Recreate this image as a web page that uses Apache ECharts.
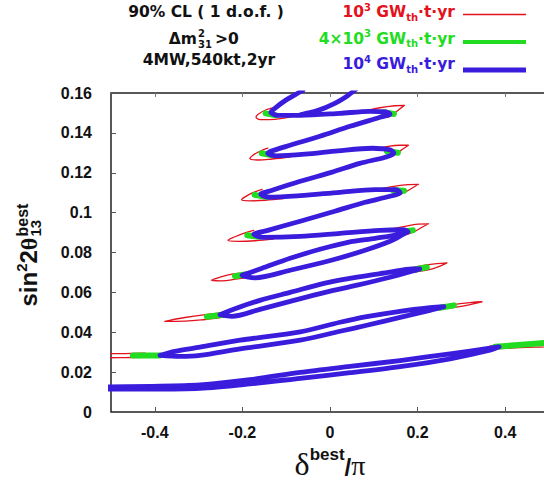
<!DOCTYPE html>
<html>
<head>
<meta charset="utf-8">
<title>sin22theta13 best vs delta best</title>
<script src="https://cdn.jsdelivr.net/npm/echarts@6.0.0/dist/echarts.min.js"></script>
<style>html,body{margin:0;padding:0;background:#fff;}</style>
</head>
<body>
<div id="main" style="width:544px;height:480px;"></div>
<script>
// axes: x = delta_best / pi, y = sin^2 2theta13 best
var xTicks = [-0.4, -0.2, 0, 0.2, 0.4];
var yTicks = [0, 0.02, 0.04, 0.06, 0.08, 0.1, 0.12, 0.14, 0.16];

var legendLabels = ['10{u|3} GW{d|th}·t·yr', '4×10{u|3} GW{d|th}·t·yr', '10{u|4} GW{d|th}·t·yr'];

// 10^4 GW_th t yr contour (blue)
var blueZigzag = [
  [-0.062,0.1614],[-0.068,0.1606],[-0.105,0.1558],[-0.126,0.1523],[-0.135,0.1503],
  [-0.119,0.1488],[-0.068,0.1488],[0.023,0.1498],[0.091,0.1508],[0.128,0.1505],
  [0.137,0.1494],[0.114,0.1478],[0.046,0.1433],[-0.023,0.1383],[-0.091,0.1338],[-0.132,0.1310],
  [-0.142,0.1298],[-0.123,0.1285],[-0.057,0.1293],[0.018,0.1310],[0.096,0.1323],[0.137,0.1315],
  [0.146,0.1298],[0.126,0.1278],[0.068,0.1247],[0.003,0.1202],[-0.068,0.1157],[-0.132,0.1112],
  [-0.158,0.1092],[-0.137,0.1077],[-0.068,0.1085],[0.023,0.1102],[0.103,0.1115],[0.151,0.1115],
  [0.160,0.1100],[0.137,0.1082],[0.080,0.1052],[0.011,0.1007],[-0.068,0.0957],[-0.142,0.0911],
  [-0.174,0.0891],[-0.153,0.0876],[-0.068,0.0881],[0.023,0.0896],[0.114,0.0911],[0.167,0.0914],
  [0.178,0.0904],[0.160,0.0891],[0.103,0.0871],[0.041,0.0851],[-0.023,0.0816],[-0.091,0.0771],
  [-0.155,0.0721],[-0.187,0.0696],[-0.201,0.0686],[-0.171,0.0673],[-0.091,0.0711],[0.003,0.0761],
  [0.080,0.0811],[0.137,0.0856],[0.167,0.0891],[0.178,0.0904]
];
var blueTop = [[0.062,0.1624],[0.041,0.1588],[0.011,0.1548],[-0.027,0.1513],[-0.068,0.1491]];
var blueLoop6 = [
  [-0.251,0.0488],[-0.217,0.0518],[-0.160,0.0560],[-0.091,0.0600],[-0.011,0.0646],[0.062,0.0676],
  [0.137,0.0701],[0.187,0.0718],[0.205,0.0718],[0.187,0.0706],[0.137,0.0676],[0.062,0.0636],
  [-0.011,0.0600],[-0.091,0.0555],[-0.160,0.0515],[-0.224,0.0480],[-0.251,0.0488]
];
var blueLoop7 = [
  [-0.388,0.0284],[-0.354,0.0304],[-0.297,0.0325],[-0.205,0.0360],[-0.068,0.0402],[0.023,0.0450],
  [0.084,0.0478],[0.160,0.0505],[0.228,0.0523],[0.260,0.0528],[0.228,0.0510],[0.160,0.0475],
  [0.084,0.0435],[0.023,0.0405],[-0.068,0.0360],[-0.205,0.0317],[-0.297,0.0284],[-0.342,0.0279],
  [-0.388,0.0284]
];
var blueBand8 = [
  [-0.525,0.0126],[-0.411,0.0129],[-0.297,0.0136],[-0.183,0.0162],[-0.068,0.0199],[0.046,0.0229],
  [0.160,0.0258],[0.274,0.0292],[0.365,0.0320],[0.386,0.0327],[0.365,0.0310],[0.274,0.0267],
  [0.160,0.0228],[0.046,0.0197],[-0.068,0.0169],[-0.183,0.0141],[-0.297,0.0119],[-0.411,0.0115],
  [-0.525,0.0115]
];

// 4x10^3 GW_th t yr (green): only the tips stick out from under the blue
var greenTips = [
  [[-0.147,0.1498],[-0.123,0.1488]],
  [[0.146,0.1495],[0.121,0.1503]],
  [[-0.156,0.1298],[-0.132,0.1288]],
  [[0.155,0.1300],[0.130,0.1308]],
  [[-0.172,0.1089],[-0.146,0.1079]],
  [[0.169,0.1110],[0.144,0.1112]],
  [[-0.189,0.0886],[-0.162,0.0879]],
  [[0.189,0.0911],[0.162,0.0906]],
  [[-0.217,0.0681],[-0.187,0.0693]],
  [[0.221,0.0726],[0.196,0.0716]],
  [[-0.281,0.0478],[-0.244,0.0488]],
  [[0.283,0.0535],[0.251,0.0523]],
  [[-0.450,0.0283],[-0.388,0.0284]],
  [[0.500,0.0348],[0.377,0.0327]]
];

// 10^3 GW_th t yr (red): ends of the thin ellipses
var redCaps = [
  [[-0.123,0.1528],[-0.146,0.1516],[-0.164,0.1493],[-0.169,0.1478],[-0.155,0.1466],[-0.126,0.1468],[-0.087,0.1481]],
  [[0.082,0.1511],[0.114,0.1526],[0.148,0.1536],[0.170,0.1538],[0.160,0.1521],[0.146,0.1498],[0.132,0.1478]],
  [[-0.142,0.1323],[-0.160,0.1308],[-0.176,0.1288],[-0.183,0.1271],[-0.164,0.1264],[-0.132,0.1269],[-0.091,0.1279]],
  [[0.091,0.1315],[0.126,0.1330],[0.160,0.1338],[0.179,0.1338],[0.167,0.1320],[0.153,0.1298],[0.137,0.1280]],
  [[-0.155,0.1117],[-0.176,0.1100],[-0.194,0.1079],[-0.202,0.1064],[-0.183,0.1059],[-0.148,0.1062],[-0.107,0.1070]],
  [[0.107,0.1115],[0.142,0.1130],[0.178,0.1140],[0.202,0.1142],[0.187,0.1122],[0.171,0.1102],[0.155,0.1087]],
  [[-0.174,0.0911],[-0.194,0.0899],[-0.217,0.0879],[-0.233,0.0861],[-0.210,0.0856],[-0.171,0.0859],[-0.130,0.0867]],
  [[0.137,0.0916],[0.171,0.0931],[0.201,0.0942],[0.225,0.0944],[0.208,0.0924],[0.192,0.0904],[0.174,0.0889]],
  [[-0.194,0.0698],[-0.224,0.0691],[-0.251,0.0676],[-0.271,0.0661],[-0.247,0.0658],[-0.215,0.0666],[-0.178,0.0678]],
  [[0.183,0.0721],[0.217,0.0736],[0.244,0.0744],[0.267,0.0748],[0.247,0.0728],[0.224,0.0713],[0.196,0.0703]],
  [[-0.240,0.0498],[-0.285,0.0488],[-0.331,0.0474],[-0.377,0.0455],[-0.331,0.0456],[-0.285,0.0464],[-0.233,0.0478]],
  [[0.251,0.0528],[0.285,0.0540],[0.320,0.0549],[0.347,0.0553],[0.320,0.0539],[0.288,0.0526],[0.251,0.0515]],
  [[-0.422,0.0295],[-0.468,0.0293],[-0.514,0.0292],[-0.525,0.0282],[-0.514,0.0272],[-0.468,0.0273],[-0.422,0.0274]],
  [[0.365,0.0330],[0.434,0.0343],[0.514,0.0357],[0.514,0.0335],[0.434,0.0323],[0.365,0.0315]]
];

var RED = '#e3121c', GREEN = '#22dc22', BLUE = '#3a1cdc';
var SANS = 'Liberation Sans, Arial, sans-serif';
var DV = 'DejaVu Sans, sans-serif';
var SERIF = 'Liberation Serif, serif';

var chart = echarts.init(document.getElementById('main'), null, {renderer: 'svg'});

function curve(pts, color, width, z, smooth) {
  return {
    type: 'line', data: pts, z: z, smooth: smooth,
    symbol: 'none', silent: true, animation: false,
    emphasis: {disabled: true},
    lineStyle: {color: color, width: width, cap: 'round', join: 'round'}
  };
}

var series = [];
redCaps.forEach(function (c) { series.push(curve(c, RED, 1.3, 2, 0.4)); });
greenTips.forEach(function (g) { series.push(curve(g, GREEN, 6, 3, false)); });
[blueZigzag, blueTop, blueLoop6, blueLoop7, blueBand8].forEach(function (b) {
  series.push(curve(b, BLUE, 4.8, 4, 0.3));
});

var tickFont = {color: '#111', fontSize: 16, fontWeight: 'bold', fontFamily: SANS};
// axes stay on the frame, never on the zero of the other axis
var noLine = {show: false, onZero: false};

function legendText(i, color, y) {
  return {
    type: 'text', x: 455, y: y, silent: true,
    style: {
      text: legendLabels[i], align: 'right', verticalAlign: 'middle',
      fontSize: 15.5, fontWeight: 'bold', fontFamily: DV, lineHeight: 20, fill: color,
      rich: {
        u: {fontSize: 10, fontWeight: 'bold', fontFamily: DV, verticalAlign: 'top', fill: color},
        d: {fontSize: 10, fontWeight: 'bold', fontFamily: DV, verticalAlign: 'bottom', fill: color}
      }
    }
  };
}
function legendLine(color, y, w) {
  return {type: 'line', silent: true, shape: {x1: 463, y1: y, x2: 526, y2: y},
    style: {stroke: color, lineWidth: w}};
}
function note(text, x, y, align, size) {
  return {type: 'text', x: x, y: y, silent: true,
    style: {text: text, align: align, verticalAlign: 'middle', fontSize: size,
      fontWeight: 'bold', fontFamily: DV, fill: '#111'}};
}

var option = {
  backgroundColor: '#fff',
  animation: false,
  grid: {left: 111, top: 93, width: 438, height: 319, show: true,
    borderColor: '#222', borderWidth: 1.5, outerBoundsMode: 'none'},
  xAxis: [{
    type: 'value', min: -0.5, max: 0.5, position: 'bottom',
    axisLine: noLine, splitLine: {show: false},
    axisTick: {inside: true, length: 5, customValues: xTicks, lineStyle: {color: '#555'}},
    axisLabel: Object.assign({customValues: xTicks, margin: 12}, tickFont)
  }, {
    type: 'value', min: -0.5, max: 0.5, position: 'top',
    axisLine: noLine, splitLine: {show: false},
    axisTick: {inside: true, length: 4, customValues: xTicks, lineStyle: {color: '#777'}},
    axisLabel: {show: false}
  }],
  yAxis: [{
    type: 'value', min: 0, max: 0.16, position: 'left',
    axisLine: noLine, splitLine: {show: false},
    axisTick: {inside: true, length: 5, customValues: yTicks, lineStyle: {color: '#555'}},
    axisLabel: Object.assign({customValues: yTicks, margin: 19}, tickFont)
  }, {
    type: 'value', min: 0, max: 0.16, position: 'right',
    axisLine: noLine, splitLine: {show: false},
    axisTick: {inside: true, length: 4, customValues: yTicks, lineStyle: {color: '#777'}},
    axisLabel: {show: false}
  }],
  series: series,
  graphic: {elements: [
    note('90% CL ( 1 d.o.f. )', 206, 12, 'center', 15.5),
    note('Δm', 197, 39, 'right', 15.5),
    note('2', 198, 33, 'left', 10),
    note('31', 198, 44, 'left', 10),
    note('>0', 215, 39, 'left', 15.5),
    note('4MW,540kt,2yr', 209, 59.5, 'center', 15.5),
    legendText(0, RED, 12),
    legendText(1, GREEN, 38.5),
    legendText(2, BLUE, 64),
    legendLine(RED, 14.5, 1.5),
    legendLine(GREEN, 42, 4),
    legendLine(BLUE, 70, 5),
    {
      type: 'text', x: 330, y: 462.5, silent: true,
      style: {
        text: '{g|δ}{b|best}{s|/}{p|π}', align: 'center', verticalAlign: 'middle', lineHeight: 34,
        rich: {
          g: {fontSize: 32, fontFamily: SERIF, fill: '#111', verticalAlign: 'bottom'},
          b: {fontSize: 17, fontWeight: 'bold', fontFamily: SANS, fill: '#111', verticalAlign: 'top'},
          s: {fontSize: 24, fontWeight: 'bold', fontFamily: SANS, fill: '#111', verticalAlign: 'bottom'},
          p: {fontSize: 28, fontFamily: SERIF, fill: '#111', verticalAlign: 'bottom'}
        }
      }
    },
    {
      type: 'group', x: 28.6, y: 306.5, rotation: Math.PI / 2, silent: true,
      children: [{
        type: 'text', x: 0, y: 0,
        style: {
          text: 'sin{p|2}2{g|θ}', align: 'left', verticalAlign: 'middle', lineHeight: 30,
          fontSize: 24, fontWeight: 'bold', fontFamily: SANS, fill: '#111',
          rich: {
            p: {fontSize: 15, fontWeight: 'bold', fontFamily: SANS, fill: '#111', verticalAlign: 'top'},
            g: {fontSize: 24, fontWeight: 'bold', fontFamily: SERIF, fill: '#111'}
          }
        }
      }, {
        type: 'text', x: 70, y: -6,
        style: {text: 'best', align: 'left', verticalAlign: 'middle', fontSize: 16,
          fontWeight: 'bold', fontFamily: SANS, fill: '#111'}
      }, {
        type: 'text', x: 70, y: 6.5,
        style: {text: '13', align: 'left', verticalAlign: 'middle', fontSize: 15,
          fontWeight: 'bold', fontFamily: SANS, fill: '#111'}
      }]
    }
  ]}
};

chart.setOption(option);
</script>
</body>
</html>
